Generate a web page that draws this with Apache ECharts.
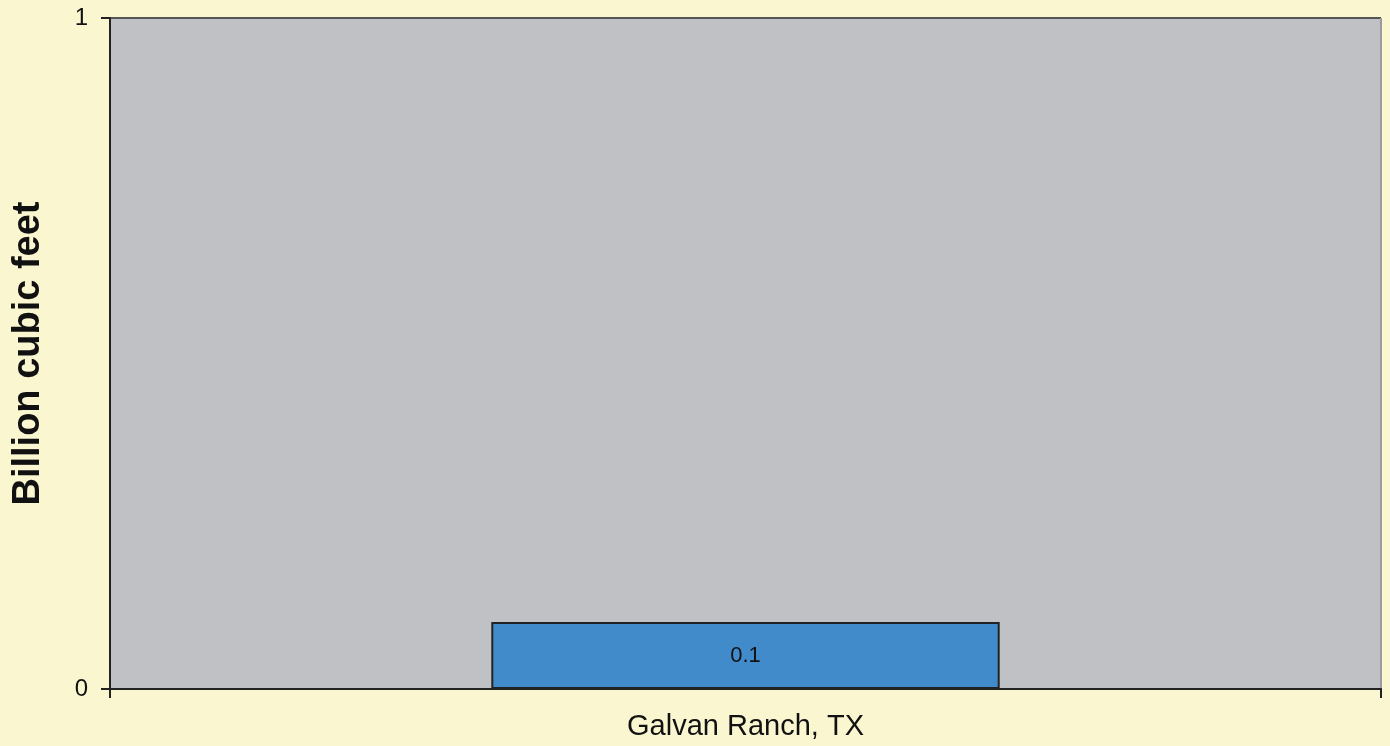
<!DOCTYPE html>
<html>
<head>
<meta charset="utf-8">
<script src="https://cdn.jsdelivr.net/npm/echarts@6/dist/echarts.min.js"></script>
<style>
  html, body { margin: 0; padding: 0; background: #FAF7D0; }
  #chart { width: 1390px; height: 746px; }
</style>
</head>
<body>
<div id="chart"></div>
<script>
const categories = ["Galvan Ranch, TX"];
const values = [0.1];
const yTicks = [0, 1];

const chart = echarts.init(document.getElementById("chart"));
chart.setOption({
    backgroundColor: "#FAF7D0",
    textStyle: { fontFamily: "Liberation Sans, Arial, sans-serif" },
    grid: {
        left: 110, right: 9, top: 18, bottom: 57,
        show: true,
        backgroundColor: "#C0C1C4",
        borderWidth: 0
    },
    xAxis: {
        type: "category",
        data: categories,
        axisLine: { lineStyle: { color: "#222", width: 2 } },
        axisTick: { show: true, length: 9, lineStyle: { color: "#222", width: 2 } },
        axisLabel: { fontSize: 29, color: "#111", margin: 23 },
        splitLine: { show: true, lineStyle: { color: "#9a9aa0", width: 2 } }
    },
    yAxis: {
        type: "value",
        min: yTicks[0],
        max: yTicks[yTicks.length - 1],
        interval: 1,
        name: "Billion cubic feet",
        nameLocation: "middle",
        nameGap: 62,
        nameTextStyle: { fontSize: 38, fontWeight: "bold", color: "#111" },
        axisLine: { show: true, lineStyle: { color: "#222", width: 2 } },
        axisTick: { show: true, length: 9, lineStyle: { color: "#222", width: 2 } },
        axisLabel: { fontSize: 24, color: "#111", margin: 22 },
        splitLine: { show: true, lineStyle: { color: "#555", width: 2 } }
    },
    series: [
        {
            type: "bar",
            data: values,
            barWidth: "40%",
            itemStyle: { color: "#428BCA", borderColor: "#222", borderWidth: 2 },
            label: {
                show: true,
                position: "inside",
                fontSize: 22,
                color: "#111",
                formatter: (p) => p.value.toFixed(1)
            }
        }
    ],
    animation: false
});
</script>
</body>
</html>
